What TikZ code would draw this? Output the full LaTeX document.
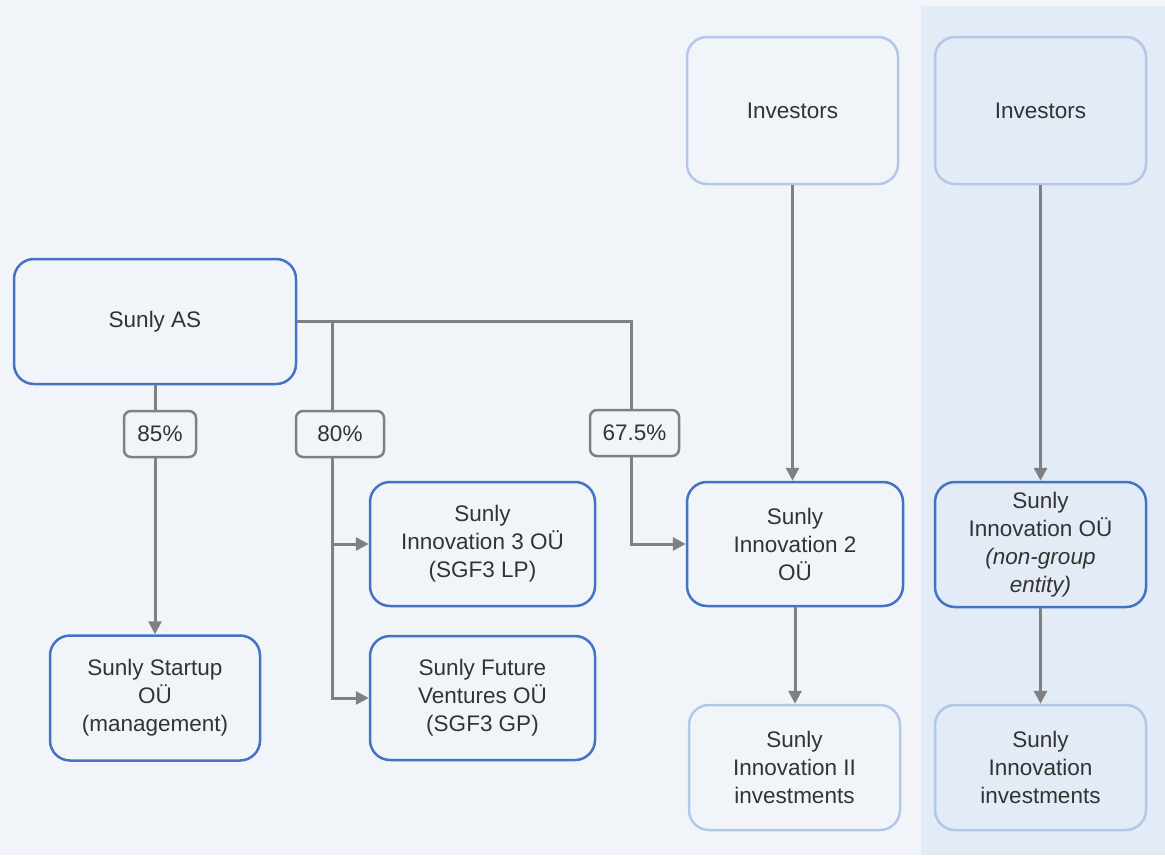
\documentclass[tikz,border=0pt]{standalone}
\usepackage{fontspec}
\setmainfont{Liberation Sans}
\usetikzlibrary{arrows.meta}
\definecolor{bg}{HTML}{F1F5F9}
\definecolor{panel}{HTML}{E2EBF6}
\definecolor{blueb}{HTML}{4472C4}
\definecolor{lightb}{HTML}{B4C7E7}
\definecolor{conn}{HTML}{808080}
\definecolor{txt}{HTML}{333333}
\begin{document}
\begin{tikzpicture}[x=1pt,y=-1pt,
 box/.style={draw=blueb, line width=2.5pt, rounded corners=20pt, align=center, text=txt,
   font=\fontsize{22.5}{28}\selectfont, inner sep=0pt},
 lbox/.style={box, draw=lightb},
 pct/.style={draw=conn, line width=2.5pt, rounded corners=7pt, text=txt,
   font=\fontsize{22.5}{28}\selectfont, inner sep=0pt},
 conn/.style={draw=conn, line width=3pt},
 arr/.style={conn, -{Triangle[length=13pt,width=13pt]}}
]
\useasboundingbox (0,0) rectangle (1165,855);
\fill[bg] (0,0) rectangle (1165,855);
\fill[panel] (921,6) rectangle (1165,855);

\node[box, minimum width=282pt, minimum height=125pt] (sas) at (155,321.5) {Sunly AS};
\node[box, minimum width=210pt, minimum height=125pt] (startup) at (155,698) {Sunly Startup\\OÜ\\(management)};
\node[box, minimum width=225pt, minimum height=124pt] (in3) at (482.5,544) {Sunly\\Innovation 3 OÜ\\(SGF3 LP)};
\node[box, minimum width=225pt, minimum height=124pt] (ffv) at (482.5,698) {Sunly Future\\Ventures OÜ\\(SGF3 GP)};
\node[box, minimum width=216pt, minimum height=124pt] (in2) at (795,544) {Sunly\\Innovation 2\\OÜ};
\node[lbox, minimum width=211pt, minimum height=147pt] (inv1) at (792.5,110.5) {Investors};
\node[lbox, minimum width=211pt, minimum height=125pt] (ii) at (794.5,767.5) {Sunly\\Innovation II\\investments};
\node[lbox, fill=panel, minimum width=211pt, minimum height=147pt] (inv2) at (1040.5,110.5) {Investors};
\node[box, fill=panel, minimum width=211pt, minimum height=125pt] (inno) at (1040.5,544.5) {Sunly\\Innovation OÜ\\\textit{(non-group}\\\textit{entity)}};
\node[lbox, fill=panel, minimum width=211pt, minimum height=125pt] (innoinv) at (1040.5,767.5) {Sunly\\Innovation\\investments};

\node[pct, minimum width=72pt, minimum height=46pt] (l85) at (160,434) {85\%};
\node[pct, minimum width=88pt, minimum height=46pt] (l80) at (340,434) {80\%};
\node[pct, minimum width=89pt, minimum height=46pt] (l675) at (634.5,433) {67.5\%};

\coordinate (j1) at (332,321.5);
\coordinate (j2) at (631,321.5);

% Sunly AS -> 85% -> Startup
\draw[conn] (sas.south) -- (sas.south |- l85.north);
\draw[arr] (sas.south |- l85.south) -- (startup.north);
% Sunly AS -> 80% -> Innovation 3 / Future Ventures
\draw[conn] (sas.east) -| (l675.north -| j2);
\draw[conn] (j1) -- (l80.north -| j1);
\draw[arr] (l80.south -| j1) |- (ffv.west);
\draw[arr] (j1 |- in3.west) -- (in3.west);
% 67.5% -> Innovation 2
\draw[arr] (l675.south -| j2) |- (in2.west);
% Investors -> Innovation 2 -> investments
\draw[arr] (inv1.south) -- (inv1.south |- in2.north);
\draw[arr] (in2.south) -- (in2.south |- ii.north);
% right panel
\draw[arr] (inv2.south) -- (inno.north);
\draw[arr] (inno.south) -- (innoinv.north);
\end{tikzpicture}
\end{document}
